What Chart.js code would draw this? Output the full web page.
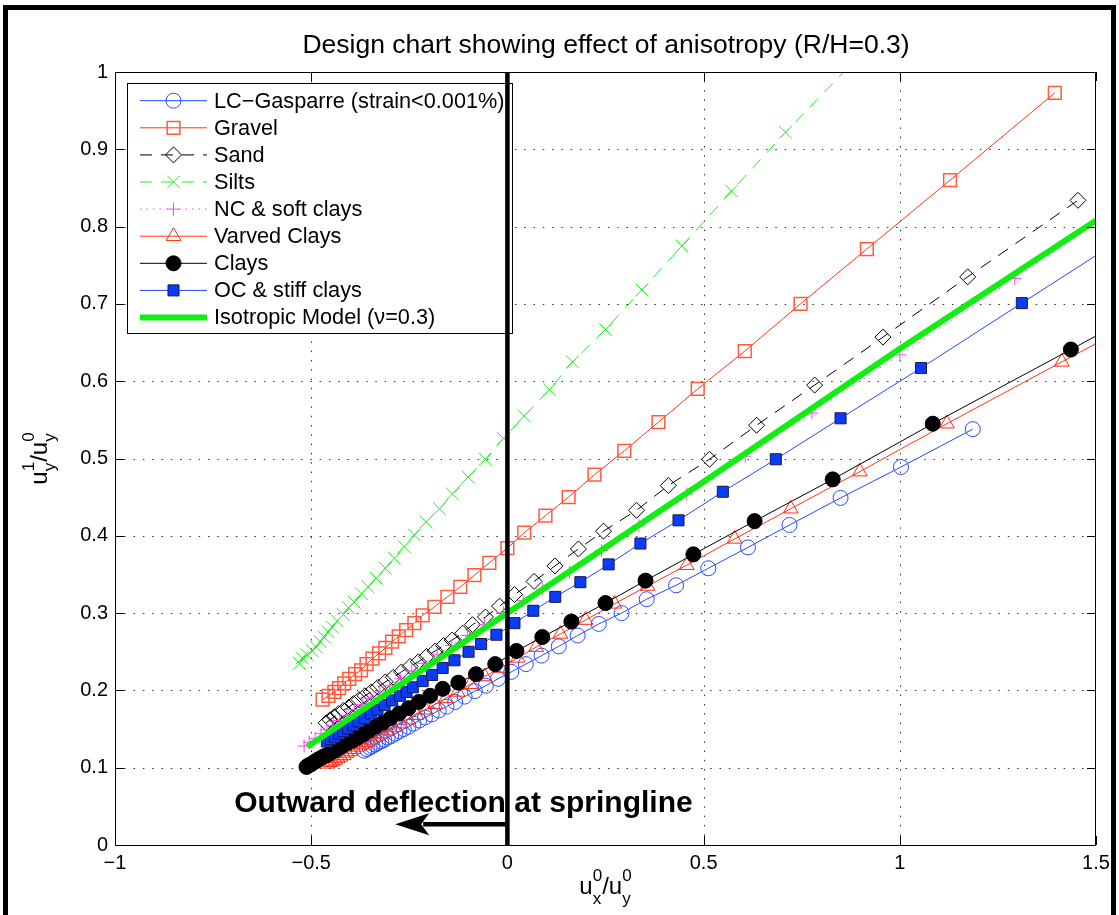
<!DOCTYPE html>
<html>
<head>
<meta charset="utf-8">
<title>Design chart showing effect of anisotropy (R/H=0.3)</title>
<script src="https://cdn.jsdelivr.net/npm/chart.js@4.4.1/dist/chart.umd.min.js"></script>
<style>
  html, body { margin: 0; padding: 0; background: #fff; }
  #chartAnisotropy { display: block; }
</style>
</head>
<body>
<canvas id="chartAnisotropy" width="1119" height="915"></canvas>
<script>
// values: x = ux0/uy0, y = uy1/uy0

const lcGasparreX = [-0.365, -0.358, -0.351, -0.344, -0.337, -0.330, -0.322, -0.314, -0.305, -0.296,
    -0.286, -0.275, -0.264, -0.252, -0.239, -0.225, -0.210, -0.193, -0.175, -0.155,
    -0.133, -0.109, -0.083, -0.055, -0.024, 0.010, 0.047, 0.087, 0.131, 0.179,
    0.233, 0.291, 0.355, 0.430, 0.512, 0.613, 0.719, 0.849, 1.003, 1.186];
const lcGasparreY = [0.122, 0.124, 0.126, 0.128, 0.130, 0.132, 0.134, 0.136, 0.139, 0.141,
    0.144, 0.147, 0.150, 0.153, 0.157, 0.161, 0.165, 0.169, 0.174, 0.179,
    0.185, 0.192, 0.199, 0.206, 0.215, 0.224, 0.234, 0.245, 0.257, 0.271,
    0.286, 0.300, 0.318, 0.336, 0.358, 0.385, 0.414, 0.449, 0.489, 0.538];

const gravelX = [-0.471, -0.456, -0.441, -0.429, -0.416, -0.403, -0.388, -0.373, -0.359, -0.344,
    -0.327, -0.311, -0.294, -0.277, -0.258, -0.237, -0.216, -0.186, -0.153, -0.120,
    -0.084, -0.046, 0.000, 0.043, 0.097, 0.156, 0.222, 0.298, 0.385, 0.485,
    0.605, 0.747, 0.916, 1.128, 1.395];
const gravelY = [0.188, 0.193, 0.198, 0.203, 0.209, 0.215, 0.221, 0.226, 0.234, 0.241,
    0.248, 0.255, 0.263, 0.270, 0.278, 0.287, 0.297, 0.308, 0.321, 0.334,
    0.349, 0.365, 0.384, 0.404, 0.426, 0.450, 0.479, 0.510, 0.547, 0.590,
    0.639, 0.700, 0.771, 0.860, 0.973];

const sandX = [-0.462, -0.452, -0.441, -0.430, -0.418, -0.405, -0.392, -0.378, -0.363, -0.347,
    -0.330, -0.311, -0.291, -0.270, -0.248, -0.227, -0.206, -0.184, -0.163, -0.141,
    -0.114, -0.089, -0.056, -0.020, 0.018, 0.068, 0.121, 0.181, 0.245, 0.329,
    0.410, 0.515, 0.635, 0.783, 0.957, 1.173, 1.454];
const sandY = [0.158, 0.162, 0.166, 0.170, 0.174, 0.178, 0.183, 0.188, 0.193, 0.198,
    0.204, 0.211, 0.217, 0.224, 0.231, 0.237, 0.244, 0.251, 0.258, 0.265,
    0.274, 0.285, 0.295, 0.309, 0.324, 0.341, 0.361, 0.383, 0.406, 0.433,
    0.465, 0.499, 0.543, 0.595, 0.657, 0.735, 0.834];

const siltsX = [-0.530, -0.523, -0.510, -0.497, -0.487, -0.477, -0.467, -0.457, -0.446, -0.434,
    -0.418, -0.405, -0.390, -0.372, -0.355, -0.334, -0.311, -0.288, -0.263, -0.237,
    -0.207, -0.173, -0.140, -0.100, -0.056, -0.010, 0.043, 0.107, 0.166, 0.250,
    0.343, 0.445, 0.571, 0.709, 0.880];
const siltsY = [0.235, 0.242, 0.246, 0.251, 0.256, 0.263, 0.269, 0.276, 0.282, 0.290,
    0.298, 0.307, 0.314, 0.325, 0.334, 0.345, 0.358, 0.371, 0.386, 0.401,
    0.418, 0.435, 0.454, 0.476, 0.499, 0.526, 0.555, 0.589, 0.625, 0.667,
    0.718, 0.775, 0.846, 0.922, 1.012];

const ncSoftX = [-0.518, -0.505, -0.490, -0.475, -0.460, -0.444, -0.427, -0.409, -0.390, -0.370,
    -0.348, -0.325, -0.300, -0.273, -0.244, -0.213, -0.179, -0.142, -0.102, -0.058,
    -0.010, 0.040, 0.090, 0.158, 0.240, 0.335, 0.457, 0.606, 0.776, 1.000,
    1.293, 1.660];
const ncSoftY = [0.128, 0.133, 0.138, 0.144, 0.149, 0.155, 0.161, 0.168, 0.175, 0.182,
    0.190, 0.198, 0.206, 0.215, 0.225, 0.235, 0.246, 0.258, 0.271, 0.285,
    0.300, 0.316, 0.331, 0.353, 0.381, 0.413, 0.454, 0.503, 0.559, 0.634,
    0.733, 0.857];

const varvedX = [-0.458, -0.452, -0.446, -0.439, -0.432, -0.425, -0.417, -0.409, -0.400, -0.391,
    -0.381, -0.371, -0.360, -0.348, -0.335, -0.321, -0.306, -0.290, -0.272, -0.253,
    -0.232, -0.209, -0.184, -0.157, -0.127, -0.094, -0.058, -0.018, 0.026, 0.073,
    0.135, 0.199, 0.273, 0.357, 0.457, 0.579, 0.722, 0.898, 1.120, 1.413,
    1.780];
const varvedY = [0.105, 0.107, 0.108, 0.110, 0.112, 0.114, 0.116, 0.119, 0.121, 0.124,
    0.127, 0.130, 0.133, 0.136, 0.140, 0.144, 0.148, 0.152, 0.157, 0.162,
    0.168, 0.175, 0.182, 0.190, 0.198, 0.208, 0.218, 0.229, 0.242, 0.256,
    0.273, 0.291, 0.312, 0.335, 0.362, 0.396, 0.435, 0.483, 0.545, 0.625,
    0.725];

const claysX = [-0.512, -0.507, -0.502, -0.496, -0.490, -0.484, -0.477, -0.470, -0.462, -0.454,
    -0.446, -0.437, -0.428, -0.418, -0.407, -0.395, -0.382, -0.368, -0.353, -0.336,
    -0.318, -0.298, -0.276, -0.252, -0.226, -0.197, -0.165, -0.125, -0.080, -0.031,
    0.023, 0.089, 0.163, 0.250, 0.352, 0.474, 0.630, 0.829, 1.084, 1.436,
    1.900];
const claysY = [0.101, 0.103, 0.104, 0.106, 0.108, 0.110, 0.112, 0.114, 0.116, 0.118,
    0.121, 0.123, 0.126, 0.129, 0.132, 0.135, 0.139, 0.143, 0.148, 0.153,
    0.158, 0.164, 0.170, 0.177, 0.185, 0.193, 0.202, 0.210, 0.221, 0.234,
    0.251, 0.269, 0.289, 0.313, 0.342, 0.376, 0.419, 0.473, 0.545, 0.641,
    0.768];

const ocStiffX = [-0.460, -0.450, -0.440, -0.429, -0.418, -0.406, -0.393, -0.379, -0.364, -0.348,
    -0.331, -0.313, -0.294, -0.274, -0.257, -0.241, -0.216, -0.192, -0.165, -0.135,
    -0.099, -0.067, -0.028, 0.018, 0.066, 0.122, 0.186, 0.258, 0.339, 0.436,
    0.549, 0.684, 0.849, 1.054, 1.311, 1.630];
const ocStiffY = [0.134, 0.137, 0.140, 0.144, 0.147, 0.151, 0.155, 0.160, 0.164, 0.170,
    0.175, 0.181, 0.187, 0.193, 0.198, 0.204, 0.212, 0.220, 0.229, 0.239,
    0.250, 0.260, 0.272, 0.287, 0.303, 0.321, 0.340, 0.363, 0.390, 0.420,
    0.457, 0.499, 0.552, 0.617, 0.701, 0.805];

const isotropicX = [-0.510, 0.000, 0.500, 1.000, 1.500];
const isotropicY = [0.127, 0.300, 0.470, 0.642, 0.808];

const seriesLabels = ['LC\u2212Gasparre (strain<0.001%)', 'Gravel', 'Sand', 'Silts', 'NC & soft clays',
    'Varved Clays', 'Clays', 'OC & stiff clays', 'Isotropic Model (\u03bd=0.3)'];

const xTickValues = [-1, -0.5, 0, 0.5, 1, 1.5];
const yTickValues = [0, 0.1, 0.2, 0.3, 0.4, 0.5, 0.6, 0.7, 0.8, 0.9, 1];

const chartTitle = 'Design chart showing effect of anisotropy (R/H=0.3)';
const noteText = 'Outward deflection at springline';
const noteAt = { x: -0.112, y: 0.043 };      // centre / baseline of the note
const arrowFrom = { x: 0, y: 0.027 };
const arrowTo = { x: -0.286, y: 0.027 };

const FONT = '"Liberation Sans", Arial, Helvetica, sans-serif';

function toPoints(xs, ys) {
    return xs.map((x, i) => ({ x: x, y: ys[i] }));
}

function fmtTick(v) {
    return String(Math.round(v * 10) / 10).replace('-', '\u2212');
}

// text with stacked super/subscripts, e.g. u^1_y
function drawScripted(ctx, pieces, cx, baseY, bigFont, smallFont, supShift, subShift) {
    const widths = pieces.map(p => {
        if (p.t) { ctx.font = bigFont; return ctx.measureText(p.t).width; }
        ctx.font = smallFont;
        return Math.max(ctx.measureText(p.sup).width, ctx.measureText(p.sub).width);
    });
    const total = widths.reduce((a, b) => a + b, 0);
    let xx = cx - total / 2;
    ctx.textAlign = 'left';
    ctx.textBaseline = 'alphabetic';
    pieces.forEach((p, i) => {
        if (p.t) {
            ctx.font = bigFont;
            ctx.fillText(p.t, xx, baseY);
        } else {
            ctx.font = smallFont;
            ctx.fillText(p.sup, xx, baseY + supShift);
            ctx.fillText(p.sub, xx, baseY + subShift);
        }
        xx += widths[i];
    });
}

const matlabLook = {
    id: 'matlabLook',
    beforeDraw(chart) {
        const ctx = chart.ctx;
        ctx.save();
        ctx.fillStyle = '#fff';
        ctx.fillRect(0, 0, chart.width, chart.height);
        // figure frame (cut off at the bottom)
        ctx.strokeStyle = '#000';
        ctx.lineWidth = 5;
        ctx.strokeRect(5.5, 7.5, 1108, 940);
        ctx.restore();
    },
    beforeDatasetsDraw(chart) {
        const { ctx, chartArea: a, scales: { x, y } } = chart;
        ctx.save();
        ctx.strokeStyle = '#333';
        ctx.lineWidth = 1;
        ctx.setLineDash([1.5, 7.8]);
        xTickValues.forEach(v => {
            const px = Math.round(x.getPixelForValue(v)) + 0.5;
            if (px <= a.left + 2 || px >= a.right - 2) return;
            ctx.beginPath();
            ctx.moveTo(px, a.bottom);
            ctx.lineTo(px, a.top);
            ctx.stroke();
        });
        yTickValues.forEach(v => {
            const py = Math.round(y.getPixelForValue(v)) + 0.5;
            if (py <= a.top + 2 || py >= a.bottom - 2) return;
            ctx.beginPath();
            ctx.moveTo(a.left, py);
            ctx.lineTo(a.right, py);
            ctx.stroke();
        });
        ctx.restore();
    },
    afterDatasetsDraw(chart) {
        const { ctx, chartArea: a, scales: { x, y } } = chart;
        ctx.save();

        // axes box and inward ticks
        ctx.setLineDash([]);
        ctx.strokeStyle = '#000';
        ctx.lineWidth = 1;
        ctx.strokeRect(a.left + 0.5, a.top + 0.5, a.right - a.left - 1, a.bottom - a.top);
        const tl = 9;
        ctx.beginPath();
        xTickValues.forEach(v => {
            const px = Math.round(x.getPixelForValue(v)) + 0.5;
            ctx.moveTo(px, a.bottom); ctx.lineTo(px, a.bottom - tl);
            ctx.moveTo(px, a.top); ctx.lineTo(px, a.top + tl);
        });
        yTickValues.forEach(v => {
            const py = Math.round(y.getPixelForValue(v)) + 0.5;
            ctx.moveTo(a.left, py); ctx.lineTo(a.left + tl, py);
            ctx.moveTo(a.right, py); ctx.lineTo(a.right - tl, py);
        });
        ctx.stroke();

        // legend box
        const lg = { left: 127, top: 83, right: 512, bottom: 333, row0: 100.7, step: 27.1, l0: 140, l1: 207, tx: 214 };
        ctx.fillStyle = '#fff';
        ctx.fillRect(lg.left, lg.top, lg.right - lg.left, lg.bottom - lg.top);
        ctx.strokeStyle = '#000';
        ctx.lineWidth = 1;
        ctx.strokeRect(lg.left + 0.5, lg.top + 0.5, lg.right - lg.left, lg.bottom - lg.top);
        chart.data.datasets.forEach((ds, i) => {
            const ry = lg.row0 + i * lg.step;
            ctx.setLineDash(ds.borderDash || []);
            ctx.strokeStyle = ds.borderColor;
            ctx.lineWidth = ds.borderWidth;
            ctx.beginPath();
            ctx.moveTo(lg.l0, ry);
            ctx.lineTo(lg.l1, ry);
            ctx.stroke();
            if (ds.pointRadius > 0) {
                ctx.setLineDash([]);
                ctx.fillStyle = ds.pointBackgroundColor;
                ctx.strokeStyle = ds.pointBorderColor;
                ctx.lineWidth = ds.pointBorderWidth;
                Chart.helpers.drawPoint(ctx, {
                    pointStyle: ds.pointStyle, radius: ds.pointRadius,
                    rotation: 0, borderWidth: ds.pointBorderWidth
                }, (lg.l0 + lg.l1) / 2, ry);
            }
            ctx.fillStyle = '#000';
            ctx.font = '21.7px ' + FONT;
            ctx.textAlign = 'left';
            ctx.textBaseline = 'middle';
            ctx.fillText(ds.label, lg.tx, ry + 1);
        });

        // thick line at ux0/uy0 = 0
        ctx.setLineDash([]);
        ctx.strokeStyle = '#000';
        ctx.lineWidth = 4.5;
        const zx = x.getPixelForValue(0);
        ctx.beginPath();
        ctx.moveTo(zx, y.getPixelForValue(0));
        ctx.lineTo(zx, y.getPixelForValue(1));
        ctx.stroke();

        // arrow
        const ax0 = x.getPixelForValue(arrowFrom.x), ax1 = x.getPixelForValue(arrowTo.x);
        const ay = y.getPixelForValue(arrowFrom.y);
        ctx.beginPath();
        ctx.moveTo(ax0, ay);
        ctx.lineTo(ax1 + 28, ay);
        ctx.stroke();
        ctx.fillStyle = '#000';
        ctx.beginPath();
        ctx.moveTo(ax1, ay);
        ctx.lineTo(ax1 + 34, ay - 11);
        ctx.lineTo(ax1 + 26, ay);
        ctx.lineTo(ax1 + 34, ay + 11);
        ctx.closePath();
        ctx.fill();

        // note
        ctx.font = 'bold 30px ' + FONT;
        ctx.textAlign = 'center';
        ctx.textBaseline = 'alphabetic';
        ctx.fillText(noteText, x.getPixelForValue(noteAt.x), y.getPixelForValue(noteAt.y));

        // title
        ctx.font = '26.5px ' + FONT;
        ctx.fillText(chartTitle, 606, 53);

        // axis labels
        const big = '24px ' + FONT, small = '17px ' + FONT;
        drawScripted(ctx, [{ t: 'u' }, { sup: '0', sub: 'x' }, { t: '/u' }, { sup: '0', sub: 'y' }],
            (a.left + a.right) / 2, 894, big, small, -13, 10);
        ctx.translate(47, (a.top + a.bottom) / 2);
        ctx.rotate(-Math.PI / 2);
        drawScripted(ctx, [{ t: 'u' }, { sup: '1', sub: 'y' }, { t: '/u' }, { sup: '0', sub: 'y' }],
            0, 0, big, small, -13, 8);

        ctx.restore();
    }
};

function lineSeries(label, xs, ys, opts) {
    return Object.assign({
        label: label,
        data: toPoints(xs, ys),
        showLine: true,
        fill: false,
        tension: 0,
        borderWidth: 1,
        pointBorderWidth: 1,
        pointHoverRadius: 0
    }, opts);
}

const datasets = [
    lineSeries(seriesLabels[0], lcGasparreX, lcGasparreY, {
        borderColor: '#2448ff', pointStyle: 'circle', pointRadius: 7.5,
        pointBorderColor: '#2a4dff', pointBackgroundColor: 'rgba(0,0,0,0)', order: 9
    }),
    lineSeries(seriesLabels[1], gravelX, gravelY, {
        borderColor: '#ff3515', pointStyle: 'rect', pointRadius: 9,
        pointBorderColor: '#ff5a3c', pointBorderWidth: 1.5, pointBackgroundColor: 'rgba(0,0,0,0)', order: 8
    }),
    lineSeries(seriesLabels[2], sandX, sandY, {
        borderColor: '#000', borderDash: [12, 9], pointStyle: 'rectRot', pointRadius: 8,
        pointBorderColor: '#000', pointBackgroundColor: 'rgba(0,0,0,0)', order: 7
    }),
    lineSeries(seriesLabels[3], siltsX, siltsY, {
        borderColor: '#22ee22', borderDash: [12, 9], pointStyle: 'crossRot', pointRadius: 9,
        pointBorderColor: '#22ee22', pointBackgroundColor: 'rgba(0,0,0,0)', order: 6
    }),
    lineSeries(seriesLabels[4], ncSoftX, ncSoftY, {
        borderColor: '#ff44ff', borderDash: [1.5, 5], pointStyle: 'cross', pointRadius: 6.5,
        pointBorderColor: '#ff44ff', pointBackgroundColor: 'rgba(0,0,0,0)', order: 5
    }),
    lineSeries(seriesLabels[5], varvedX, varvedY, {
        borderColor: '#ff3515', pointStyle: 'triangle', pointRadius: 8.5,
        pointBorderColor: '#ff2a10', pointBackgroundColor: 'rgba(0,0,0,0)', order: 4
    }),
    lineSeries(seriesLabels[6], claysX, claysY, {
        borderColor: '#000', pointStyle: 'circle', pointRadius: 7.5,
        pointBorderColor: '#000', pointBackgroundColor: '#000', order: 3
    }),
    lineSeries(seriesLabels[7], ocStiffX, ocStiffY, {
        borderColor: '#2448ff', pointStyle: 'rect', pointRadius: 7.8,
        pointBorderColor: '#1a1a40', pointBackgroundColor: '#0a3cff', order: 2
    }),
    lineSeries(seriesLabels[8], isotropicX, isotropicY, {
        borderColor: '#11ee11', borderWidth: 6, pointRadius: 0, order: 1
    })
];

new Chart(document.getElementById('chartAnisotropy'), {
    type: 'scatter',
    data: { datasets: datasets },
    options: {
        responsive: false,
        animation: false,
        events: [],
        layout: { padding: { top: 72, right: 23, left: 0, bottom: 0 } },
        plugins: {
            legend: { display: false },
            title: { display: false },
            tooltip: { enabled: false }
        },
        scales: {
            x: {
                type: 'linear',
                min: -1,
                max: 1.5,
                afterBuildTicks: s => { s.ticks = xTickValues.map(v => ({ value: v })); },
                afterFit: s => { s.height = 70; },
                grid: { display: false, drawTicks: false },
                border: { display: false },
                ticks: {
                    color: '#000',
                    padding: 6,
                    maxRotation: 0,
                    font: { family: FONT, size: 20 },
                    callback: v => fmtTick(v)
                }
            },
            y: {
                type: 'linear',
                min: 0,
                max: 1,
                afterBuildTicks: s => { s.ticks = yTickValues.map(v => ({ value: v })); },
                afterFit: s => { s.width = 115; },
                grid: { display: false, drawTicks: false },
                border: { display: false },
                ticks: {
                    color: '#000',
                    padding: 7,
                    font: { family: FONT, size: 20 },
                    callback: v => fmtTick(v)
                }
            }
        }
    },
    plugins: [matlabLook]
});
</script>
</body>
</html>
